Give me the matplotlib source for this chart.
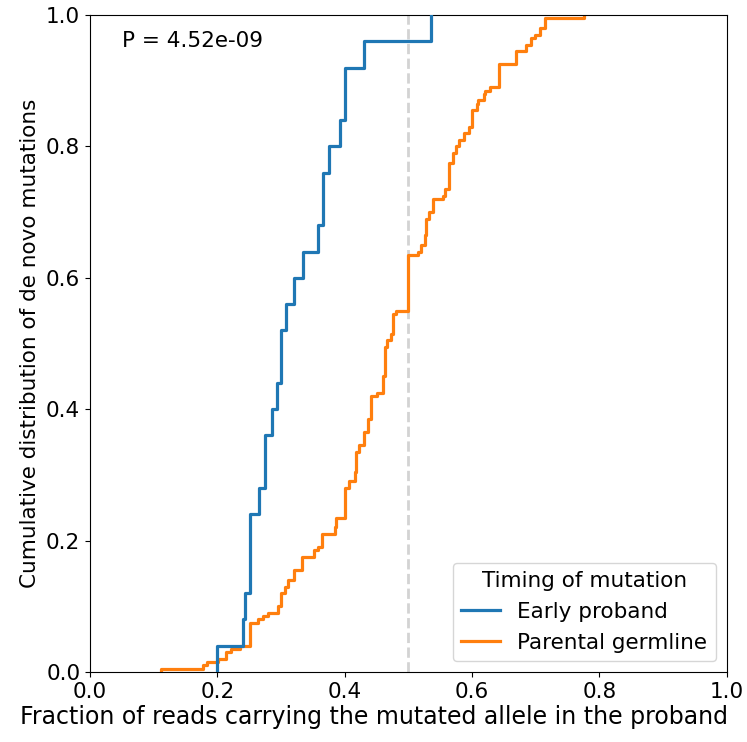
import numpy as np
import matplotlib
matplotlib.use("Agg")
import matplotlib.pyplot as plt

# Early proband mutations: allele fraction values and multiplicities
early_vaf = [0.200, 0.240, 0.244, 0.252, 0.265, 0.274, 0.286, 0.293, 0.300, 0.308,
             0.320, 0.334, 0.358, 0.366, 0.376, 0.393, 0.401, 0.430, 0.536]
early_count = [1, 1, 1, 3, 1, 2, 1, 1, 2, 1, 1, 1, 1, 2, 1, 1, 2, 1, 1]

# Parental germline mutations: allele fraction values and multiplicities
parental_vaf = [0.112, 0.177, 0.183, 0.201, 0.214, 0.221, 0.235, 0.251, 0.264, 0.272,
                0.279, 0.295, 0.300, 0.306, 0.311, 0.320, 0.333, 0.351, 0.358, 0.364,
                0.384, 0.387, 0.400, 0.407, 0.416, 0.418, 0.423, 0.430, 0.436, 0.442,
                0.451, 0.460, 0.463, 0.466, 0.472, 0.475, 0.481, 0.500, 0.515, 0.520,
                0.526, 0.528, 0.532, 0.538, 0.554, 0.558, 0.563, 0.570, 0.575, 0.579,
                0.588, 0.595, 0.600, 0.608, 0.610, 0.618, 0.621, 0.628, 0.642, 0.669,
                0.684, 0.693, 0.698, 0.706, 0.714, 0.775]
parental_count = [1, 1, 1, 1, 2, 1, 1, 7, 1, 1, 1, 2, 4, 2, 2, 3, 4, 2, 1, 4,
                  2, 3, 9, 2, 3, 6, 2, 4, 4, 7, 1, 5, 9, 2, 2, 6, 1, 17, 1, 2,
                  3, 5, 2, 4, 1, 2, 8, 3, 2, 2, 2, 2, 5, 2, 1, 2, 1, 1, 7, 4,
                  2, 2, 1, 2, 3, 1]

labels = ["Early proband", "Parental germline"]
p_text = "P = 4.52e-09"

early = np.repeat(early_vaf, early_count)
parental = np.repeat(parental_vaf, parental_count)

fs = 15.5
fig = plt.figure(figsize=(7.47, 7.42), dpi=100)
ax = fig.add_axes([0.1205, 0.0943, 0.8525, 0.8855])

ax.axvline(0.5, color="#d3d3d3", linestyle="--", linewidth=2, zorder=1)
ax.ecdf(early, color="#1f77b4", linewidth=2.3, label=labels[0], zorder=3)
ax.ecdf(parental, color="#ff7f0e", linewidth=2.3, label=labels[1], zorder=2)

ax.set_xlim(0, 1)
ax.set_ylim(0, 1)
ax.set_xticks(np.arange(0, 1.01, 0.2))
ax.set_yticks(np.arange(0, 1.01, 0.2))
ax.tick_params(labelsize=fs)
ax.set_xlabel("Fraction of reads carrying the mutated allele in the proband", fontsize=17)
ax.xaxis.set_label_coords(0.445, -0.045, transform=None)
ax.xaxis.label.set_transform(fig.transFigure)
ax.xaxis.label.set_position((0.5, 0.018))
ax.xaxis.label.set_verticalalignment("bottom")
ax.set_ylabel("Cumulative distribution of de novo mutations", fontsize=fs)
ax.text(0.05, 0.96, p_text, transform=ax.transAxes, fontsize=fs, va="center", ha="left")
leg = ax.legend(title="Timing of mutation", loc="lower right", fontsize=fs,
                title_fontsize=fs, handlelength=1.8)

fig.savefig("out.png", dpi=100)
